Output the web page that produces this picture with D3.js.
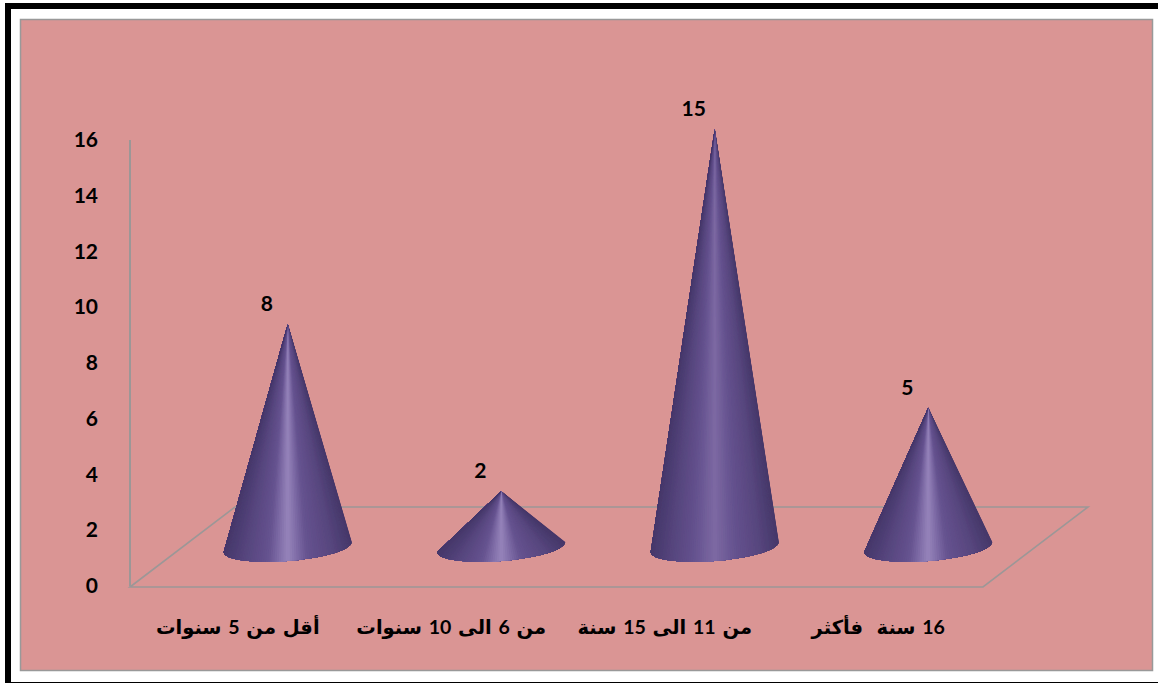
<!DOCTYPE html>
<html><head><meta charset="utf-8">
<script src="https://cdnjs.cloudflare.com/ajax/libs/d3/7.8.5/d3.min.js"></script>
<style>html,body{margin:0;padding:0;background:#fff}svg{display:block}</style></head>
<body><svg id="c" width="1158" height="683"></svg>
<script>
const categories=["أقل من 5 سنوات","من 6 الى 10 سنوات","من 11 الى 15 سنة","16 سنة  فأكثر"];
const values=[8,2,15,5];
const ticks=[0,2,4,6,8,10,12,14,16];
const svg=d3.select("#c");
const font="Lato,'DejaVu Sans',sans-serif";
svg.append("rect").attr("x",8).attr("y",6).attr("width",1160).attr("height",679).attr("fill","#fff").attr("stroke","#000").attr("stroke-width",6);
svg.append("rect").attr("x",20.5).attr("y",19.5).attr("width",1132).attr("height",651).attr("fill","#da9594").attr("stroke","#999").attr("stroke-width",1.5);
const y=d3.scaleLinear().domain([0,16]).range([586,140]);
const x=d3.scaleBand().domain(categories).range([181,1035]);
const wall="#9c9797";
const floorPts=[[130,587],[235,507],[1088,507],[983,587]];
svg.append("polygon").attr("points",floorPts.join(" ")).attr("fill","none").attr("stroke",wall).attr("stroke-width",1.6);
svg.append("line").attr("x1",130).attr("x2",130).attr("y1",y(16)).attr("y2",y(0)).attr("stroke",wall).attr("stroke-width",2);
svg.append("g").selectAll("text").data(ticks).join("text")
 .attr("x",98).attr("y",d=>y(d)+7).attr("text-anchor","end").attr("font-family",font).attr("font-weight",700).attr("font-size",21).attr("fill","#000").text(d=>d);
const defs=svg.append("defs");
defs.append("filter").attr("id","soft").append("feGaussianBlur").attr("stdDeviation",0.6);
const rx=64, ry=14, lift=39, shear=5;
const centerCol=d3.scaleLinear().domain([8,15]).range(["#9684bb","#7d69a3"]).clamp(true);
const thetas=d3.range(0,181,2).map(d=>d*Math.PI/180);
const cones=svg.append("g").selectAll("g").data(categories).join("g");
cones.each(function(c,i){
  const cx=x(c)+x.bandwidth()/2, by=y(0)-lift, apex=by-(y(0)-y(values[i]));
  const g=d3.select(this);
  const shade=d3.scaleLinear().domain([-1,-0.7,-0.3,0,0.3,0.7,1]).range(["#46386b","#55447c","#665390",centerCol(values[i]),"#665390","#57467e","#46386a"]);
  const px=t=>cx+rx*Math.cos(t), py=t=>by+ry*Math.sin(t)-shear*Math.cos(t);
  const cg=g.append("g").attr("filter","url(#soft)");
  for(let k=0;k<thetas.length-1;k++){
    const rest=thetas.slice(k);
    const m=(thetas[k]+thetas[k+1])/2;
    cg.append("path").attr("fill",shade(Math.cos(m)))
     .attr("d",`M${cx},${apex}`+rest.map(t=>`L${px(t)},${py(t)}`).join("")+"Z");
  }
  g.append("text").attr("x",cx-21).attr("y",apex-13).attr("text-anchor","middle").attr("font-family",font).attr("font-weight",700).attr("font-size",21).text(values[i]);
});
svg.append("g").selectAll("text").data(categories).join("text")
 .attr("x",c=>x(c)+x.bandwidth()/2-50).attr("y",634).attr("text-anchor","middle").attr("direction","rtl").attr("font-family",font).attr("font-weight",700).attr("font-size",19.5).attr("word-spacing",2).style("white-space","pre").text(c=>c);
</script></body></html>
